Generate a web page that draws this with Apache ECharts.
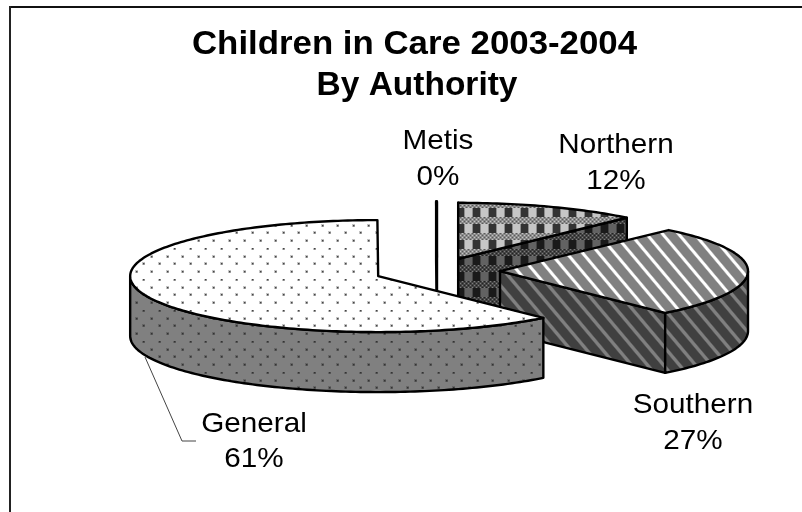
<!DOCTYPE html>
<html>
<head>
<meta charset="utf-8">
<style>html,body{margin:0;padding:0;background:#fff}#chart{width:802px;height:512px}</style>
<script src="https://cdn.jsdelivr.net/npm/echarts@6/dist/echarts.min.js"></script>
</head>
<body>
<div id="chart"></div>
<script>
// ---- data ----
var titleLines = ['Children in Care 2003-2004', 'By Authority'];
var categories = ['Northern', 'Southern', 'General', 'Metis'];
var shares = [11.9, 26.5, 61.55, 0.05];
var shownPercents = [12, 27, 61, 0];

// ---- pie layout / style ----
var pie = { cx: 437, cy: 271, rx: 248, ry: 56, depth: 60 };
var explode = { Northern: 58, Southern: 63, General: 63, Metis: 60 };
var drawOrder = { Northern: 1, Metis: 2, Southern: 3, General: 4 };
var labelPlace = {
  Northern: { x: 616, y: 145, dy: 36 },
  Southern: { x: 693, y: 405, dy: 36 },
  General:  { x: 254, y: 424, dy: 35 },
  Metis:    { x: 438, y: 141, dy: 36 }
};
var labelFont = 'Liberation Sans, Arial, sans-serif';

function tile(w, h, draw) {
  var c = document.createElement('canvas');
  c.width = w; c.height = h;
  draw(c.getContext('2d'));
  return { image: c, repeat: 'repeat' };
}
function dots(bg, dark, halo) {
  return tile(31, 31, function (g) {
    g.fillStyle = bg; g.fillRect(0, 0, 31, 31);
    [[4, 0], [19, 0], [12, 8], [27, 8], [4, 15], [19, 15], [12, 23], [27, 23]].forEach(function (p) {
      g.fillStyle = halo; g.fillRect(p[0] - 1, p[1] - 1, 3, 3);
      g.fillStyle = dark; g.fillRect(p[0], p[1], 1.5, 1.5);
    });
  });
}
function checks(band, bandLight, bandDark, dark, light) {
  return tile(16, 16, function (g) {
    g.fillStyle = band; g.fillRect(0, 0, 16, 16);
    for (var x = 0; x < 16; x += 2) {
      for (var y = 9; y < 16; y += 2) {
        g.fillStyle = ((x + y + 1) % 4 === 0) ? bandLight : bandDark;
        g.fillRect(x, y, 1, 1);
      }
    }
    g.fillStyle = light; g.fillRect(1, 0, 7, 9);
    g.fillStyle = dark; g.fillRect(9, 0, 7, 9);
  });
}
function stripes(base, hi, phase, half) {
  var W = 16, H = 19;
  return tile(W, H, function (g) {
    var img = g.createImageData(W, H);
    for (var y = 0; y < H; y++) for (var x = 0; x < W; x++) {
      var t = (((x - y * W / H - phase) % W) + W) % W;
      if (t > W / 2) t -= W;
      var a = Math.max(0, Math.min(1, (half - Math.abs(t)) / 1.6));
      var i = (y * W + x) * 4;
      for (var k = 0; k < 3; k++) img.data[i + k] = base + (hi - base) * a;
      img.data[i + 3] = 255;
    }
    g.putImageData(img, 0, 0);
  });
}
var fills = {
  Northern: { top: checks('#8c8c8c', '#c4c4c4', '#5a5a5a', '#333333', '#c6c6c6'),
              side: checks('#444444', '#7c7c7c', '#222222', '#1a1a1a', '#626262') },
  Southern: { top: stripes(128, 255, 1.5, 2.8), side: stripes(64, 128, 4, 3) },
  General:  { top: dots('#ffffff', '#444444', '#c4c4c4'), side: dots('#808080', '#333333', '#666666') },
  Metis:    { top: '#ffffff', side: '#808080' }
};

// ---- slices computed from the shares ----
var total = shares.reduce(function (a, b) { return a + b; }, 0);
var spans = [], acc = 0;
shares.forEach(function (v) {
  var a0 = acc / total * 2 * Math.PI;
  acc += v;
  spans.push([a0, acc / total * 2 * Math.PI]);
});

function renderSlice(params, api) {
  var i = params.dataIndex, name = categories[i];
  var a0 = spans[i][0], a1 = spans[i][1], mid = (a0 + a1) / 2;
  var d = explode[name], f = fills[name], base = drawOrder[name] * 10;
  var cx = pie.cx + d * Math.sin(mid);
  var cy = pie.cy - d * Math.cos(mid) * pie.ry / pie.rx;
  function pt(a, z) { return [cx + pie.rx * Math.sin(a), cy - pie.ry * Math.cos(a) + z]; }
  function arc(s, e, z) {
    var out = [], n = Math.max(2, Math.ceil((e - s) / 0.02));
    for (var k = 0; k <= n; k++) out.push(pt(s + (e - s) * k / n, z));
    return out;
  }
  function poly(points, fill, z2) {
    return { type: 'polygon', z2: base + z2, silent: true, shape: { points: points },
      style: { fill: fill, stroke: '#000', lineWidth: 2.4, lineJoin: 'round' } };
  }
  var kids = [], D = pie.depth;
  function face(a, z2) {
    kids.push(poly([[cx, cy], pt(a, 0), pt(a, D), [cx, cy + D]], f.side, z2));
  }
  if (Math.sin(a0) <= 0.001) face(a0, 0);
  if (Math.sin(a1) >= -0.001) face(a1, 1);
  var ws = Math.max(a0, Math.PI / 2), we = Math.min(a1, 3 * Math.PI / 2);
  if (we > ws) kids.push(poly(arc(ws, we, 0).concat(arc(ws, we, D).reverse()), f.side, 2));
  kids.push(poly([[cx, cy]].concat(arc(a0, a1, 0)), f.top, 3));
  return { type: 'group', children: kids };
}

// ---- texts and frame ----
function text(str, x, y, size, weight, scaleX) {
  return { type: 'text', x: x, y: y, scaleX: scaleX, z: 50, silent: true,
    style: { text: str, fill: '#000', fontSize: size, fontWeight: weight, fontFamily: labelFont,
             align: 'center', verticalAlign: 'middle', textAlign: 'center', textVerticalAlign: 'middle' } };
}
var graphics = [
  { type: 'line', silent: true, z: 40, shape: { x1: 10, y1: 7, x2: 802, y2: 7 }, style: { stroke: '#111', lineWidth: 2 } },
  { type: 'line', silent: true, z: 40, shape: { x1: 10, y1: 6, x2: 10, y2: 512 }, style: { stroke: '#222', lineWidth: 2 } },
  { type: 'polyline', silent: true, z: 40, shape: { points: [[145, 357], [182, 441], [196, 441]] }, style: { stroke: '#444', lineWidth: 1, fill: 'none' } },
  text(titleLines[0], 414.5, 45, 33, 'bold', 1.055),
  text(titleLines[1], 417, 86, 33, 'bold', 1.015)
];
categories.forEach(function (name, i) {
  var p = labelPlace[name];
  graphics.push(text(name, p.x, p.y, 28, 'normal', 1.06));
  graphics.push(text(shownPercents[i] + '%', p.x, p.y + p.dy, 28, 'normal', 1.06));
});

var chart = echarts.init(document.getElementById('chart'), null, { renderer: 'canvas' });
chart.setOption({
  animation: false,
  backgroundColor: '#ffffff',
  graphic: { elements: graphics },
  series: [{
    type: 'custom',
    coordinateSystem: 'none',
    silent: true,
    renderItem: renderSlice,
    data: shares.map(function (v, i) { return { name: categories[i], value: [v] }; })
  }]
});
</script>
</body>
</html>
